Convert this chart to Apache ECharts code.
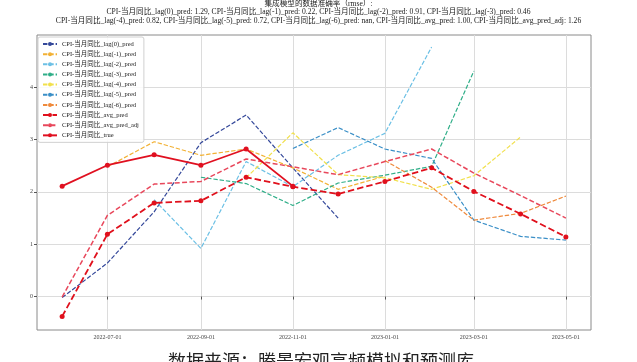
<!DOCTYPE html>
<html>
<head>
<meta charset="utf-8">
<script src="https://cdn.jsdelivr.net/npm/echarts@6/dist/echarts.min.js"></script>
<style>html,body{margin:0;padding:0;background:#fff;}#c{width:637px;height:362px;}</style>
</head>
<body>
<div id="c"></div>
<script>
const months = ['2022-06-01','2022-07-01','2022-08-01','2022-09-01','2022-10-01','2022-11-01','2022-12-01','2023-01-01','2023-02-01','2023-03-01','2023-04-01','2023-05-01'];
const xTicks = ['2022-07-01','2022-09-01','2022-11-01','2023-01-01','2023-03-01','2023-05-01'];
const yTicks = [0, 1, 2, 3, 4];

const lag0   = [-0.02, 0.64, 1.62, 2.94, 3.47, 2.46, 1.50, null, null, null, null, null];
const lag1   = [null, 2.48, 2.96, 2.70, 2.82, 2.46, 2.05, 2.30, null, null, null, null];
const lag2   = [null, null, 1.85, 0.92, 2.58, 2.10, 2.70, 3.12, 4.77, null, null, null];
const lag3   = [null, null, null, 2.28, 2.16, 1.74, 2.17, 2.32, 2.49, 4.31, null, null];
const lag4   = [null, null, null, null, 2.27, 3.13, 2.33, 2.27, 2.05, 2.31, 3.05, null];
const lag5   = [null, null, null, null, null, 2.83, 3.23, 2.82, 2.64, 1.46, 1.15, 1.08];
const lag6   = [null, null, null, null, null, null, null, 2.60, 2.09, 1.46, 1.59, 1.92];
const avgPred    = [-0.38, 1.19, 1.79, 1.83, 2.28, 2.10, 1.96, 2.20, 2.46, 2.01, 1.58, 1.14];
const avgPredAdj = [-0.01, 1.55, 2.15, 2.20, 2.63, 2.48, 2.33, 2.58, 2.82, 2.36, 1.93, 1.50];
const trueVals   = [2.11, 2.51, 2.71, 2.51, 2.82, 2.11, null, null, null, null, null, null];

const names = ['CPI-当月同比_lag(0)_pred','CPI-当月同比_lag(-1)_pred','CPI-当月同比_lag(-2)_pred','CPI-当月同比_lag(-3)_pred','CPI-当月同比_lag(-4)_pred','CPI-当月同比_lag(-5)_pred','CPI-当月同比_lag(-6)_pred','CPI-当月同比_avg_pred','CPI-当月同比_avg_pred_adj','CPI-当月同比_true'];
const titleLines = [
  '集成模型的数据准确率（rmse）:',
  'CPI-当月同比_lag(0)_pred: 1.29, CPI-当月同比_lag(-1)_pred: 0.22, CPI-当月同比_lag(-2)_pred: 0.91, CPI-当月同比_lag(-3)_pred: 0.46',
  'CPI-当月同比_lag(-4)_pred: 0.82, CPI-当月同比_lag(-5)_pred: 0.72, CPI-当月同比_lag(-6)_pred: nan, CPI-当月同比_avg_pred: 1.00, CPI-当月同比_avg_pred_adj: 1.26'
];
const sourceText = '数据来源：腾景宏观高频模拟和预测库';

function toTs(s){ const p = s.split('-').map(Number); return Date.UTC(p[0], p[1]-1, p[2]); }
const ts = months.map(toTs);
function pairs(arr){ return arr.map((v,i)=>[ts[i], v]).filter(d=>d[1]!==null); }
function pad(n){ return (n<10?'0':'')+n; }

const serif = '"Liberation Serif", "DejaVu Serif", "Noto Sans CJK SC", serif';
const lagColors = ['#34489a','#f2b134','#6cc0e5','#2fae88','#f1e04b','#3a8fc7','#ef8a3c'];
const lagData = [lag0, lag1, lag2, lag3, lag4, lag5, lag6];

const series = lagData.map((arr,i)=>({
  name: names[i], type:'line', data: pairs(arr), symbol:'none', showSymbol:false,
  lineStyle:{color:lagColors[i], width:1.2, type:[4.4,1.9]}, itemStyle:{color:lagColors[i]}, z: 2+i
}));
series.push({
  name: names[7], type:'line', data: pairs(avgPred), symbol:'circle', symbolSize:5,
  lineStyle:{color:'#e0101c', width:1.8, type:[6.5,3]}, itemStyle:{color:'#e0101c'}, z: 10
});
series.push({
  name: names[8], type:'line', data: pairs(avgPredAdj), symbol:'none', showSymbol:false,
  lineStyle:{color:'#e8485c', width:1.5, type:[5,2.4]}, itemStyle:{color:'#e8485c'}, z: 11
});
series.push({
  name: names[9], type:'line', data: pairs(trueVals), symbol:'circle', symbolSize:5,
  lineStyle:{color:'#e01020', width:1.8}, itemStyle:{color:'#e01020'}, z: 12
});

const titleStyle = {fontFamily: serif, fontSize: 7.6, fontWeight:'normal', color:'#222'};
const chart = echarts.init(document.getElementById('c'), null, {renderer:'canvas'});
chart.setOption({
  animation: false,
  backgroundColor: '#fff',
  title: [
    {text: titleLines[0], left: 'center', top: 0, padding: 0, textStyle: titleStyle},
    {text: titleLines[1], left: 'center', top: 8.4, padding: 0, textStyle: titleStyle},
    {text: titleLines[2], left: 'center', top: 16.8, padding: 0, textStyle: titleStyle},
    {text: sourceText, left: 168, top: 352, padding: 0,
     textStyle:{fontFamily: '"Noto Sans CJK SC", sans-serif', fontSize: 18, fontWeight:'normal', color:'#222'}}
  ],
  grid: {left: 37, right: 46, top: 35, bottom: 32, show: true, borderColor: '#8a8a8a', borderWidth: 1, backgroundColor:'#fff', containLabel:false},
  legend: {
    orient:'vertical', left: 38, top: 37, itemWidth: 14, itemHeight: 5, itemGap: 2.15,
    padding:[3,5,3,4], backgroundColor:'rgba(255,255,255,0.85)', borderColor:'#d0d0d0', borderWidth:1, borderRadius:2,
    textStyle:{fontFamily: serif, fontSize: 6.5, color:'#222', lineHeight: 8},
    data: names
  },
  xAxis: {
    type:'value', min: Date.UTC(2022,4,15,8), max: Date.UTC(2023,4,17,16),
    axisLine:{show:false},
    axisTick:{show:true, length:3, inside:false, lineStyle:{color:'#555'}, customValues: xTicks.map(toTs)},
    axisLabel:{customValues: xTicks.map(toTs), fontFamily: serif, fontSize: 6, color:'#444', margin: 4,
      formatter: function(v){ const d = new Date(v); return d.getUTCFullYear()+'-'+pad(d.getUTCMonth()+1)+'-'+pad(d.getUTCDate()); }},
    splitLine:{show:true, lineStyle:{color:'#dcdcdc', width:1}}
  },
  yAxis: {
    type:'value', min: -0.64, max: 5.0,
    axisLine:{show:false},
    axisTick:{show:true, length:3, inside:false, lineStyle:{color:'#555'}, customValues: yTicks},
    axisLabel:{customValues: yTicks, fontFamily: serif, fontSize: 6, color:'#444', margin: 4},
    splitLine:{show:true, lineStyle:{color:'#dcdcdc', width:1}}
  },
  series: series
});
</script>
</body>
</html>
